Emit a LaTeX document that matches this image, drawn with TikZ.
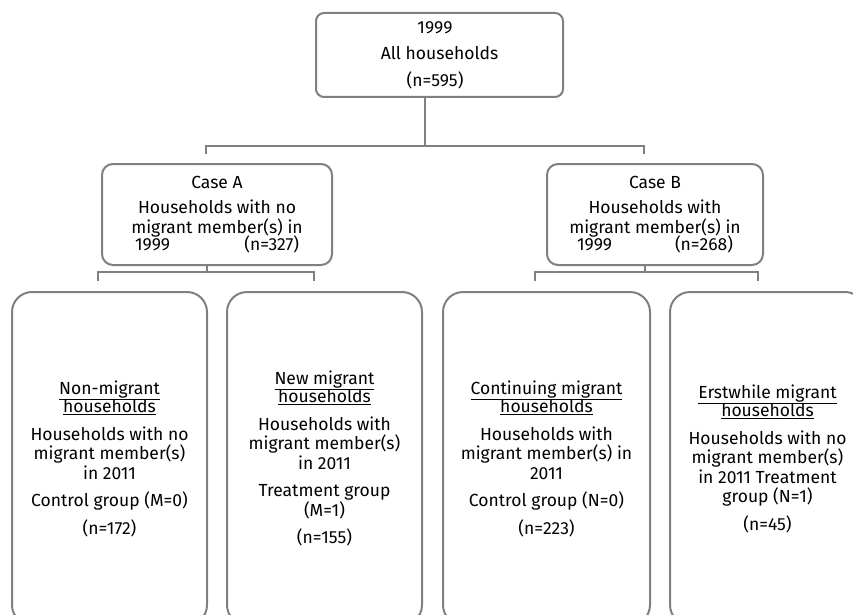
\documentclass[tikz,border=0pt]{standalone}
\usepackage{fontspec}
\setmainfont{Fira Sans}
\definecolor{linegray}{HTML}{808080}
\definecolor{textgray}{HTML}{000000}
\begin{document}
\begin{tikzpicture}[x=1pt,y=-1pt,
  conn/.style={draw=linegray,line width=2pt},
  boxbase/.style={draw=linegray,line width=2pt,fill=white,align=center,inner sep=0pt,
    text=textgray,font=\fontsize{17.5}{19.5}\selectfont},
  topbox/.style={boxbase,rounded corners=8pt,minimum width=247pt,minimum height=84pt},
  casebox/.style={boxbase,rounded corners=11pt,minimum height=101pt},
  leafbox/.style={boxbase,rounded corners=20pt,minimum width=195pt,minimum height=333pt}]
\useasboundingbox (0,0) rectangle (853,615);
\clip (0,0) rectangle (853,615);

\node[topbox] (top) at (439.5,55) {1999\hspace*{9pt}\\[7pt]All households\hspace*{9pt}\\[7pt](n=595)\hspace*{9pt}};

\node[casebox,minimum width=230pt] (caseA) at (217,214.5)
  {Case A\\[6pt]Households with no\\migrant member(s) in\\[-2pt]\makebox[164pt]{1999\hfill(n=327)}};
\node[casebox,minimum width=216pt] (caseB) at (655,214.5)
  {Case B\\[6pt]Households with\\migrant member(s) in\\[-2pt]\makebox[156pt]{1999\hfill(n=268)}};

\node[leafbox] (l1) at (109.5,458.5)
  {\underline{Non-migrant}\\[-1pt]\underline{households}\\[8pt]Households with no\\migrant member(s)\\in 2011\\[8pt]Control group (M=0)\\[8pt](n=172)};
\node[leafbox] (l2) at (324.5,458.5)
  {\underline{New migrant}\\[-1pt]\underline{households}\\[8pt]Households with\\migrant member(s)\\in 2011\\[8pt]Treatment group\\(M=1)\\[8pt](n=155)};
\node[leafbox,minimum width=207pt] (l3) at (546.5,458.5)
  {\underline{Continuing migrant}\\[-1pt]\underline{households}\\[8pt]Households with\\migrant member(s) in\\2011\\[8pt]Control group (N=0)\\[8pt](n=223)};
\node[leafbox] (l4) at (767.5,458.5)
  {\underline{Erstwhile migrant}\\[-1pt]\underline{households}\\[8pt]Households with no\\migrant member(s)\\in 2011 Treatment\\group (N=1)\\[8pt](n=45)};

\coordinate (j0) at (425,146);
\coordinate (s1) at (206,154);
\coordinate (s2) at (644,154);
\draw[conn] (top.south -| j0) -- (j0);
\draw[conn] (s1) |- (j0) -| (s2);

\coordinate (ja) at (207,272);
\coordinate (sa1) at (98,281);
\coordinate (sa2) at (314,281);
\draw[conn] (caseA.south -| ja) -- (ja);
\draw[conn] (sa1) |- (ja) -| (sa2);

\coordinate (jb) at (645,272);
\coordinate (sb1) at (535,281);
\coordinate (sb2) at (758,281);
\draw[conn] (caseB.south -| jb) -- (jb);
\draw[conn] (sb1) |- (jb) -| (sb2);
\end{tikzpicture}
\end{document}
